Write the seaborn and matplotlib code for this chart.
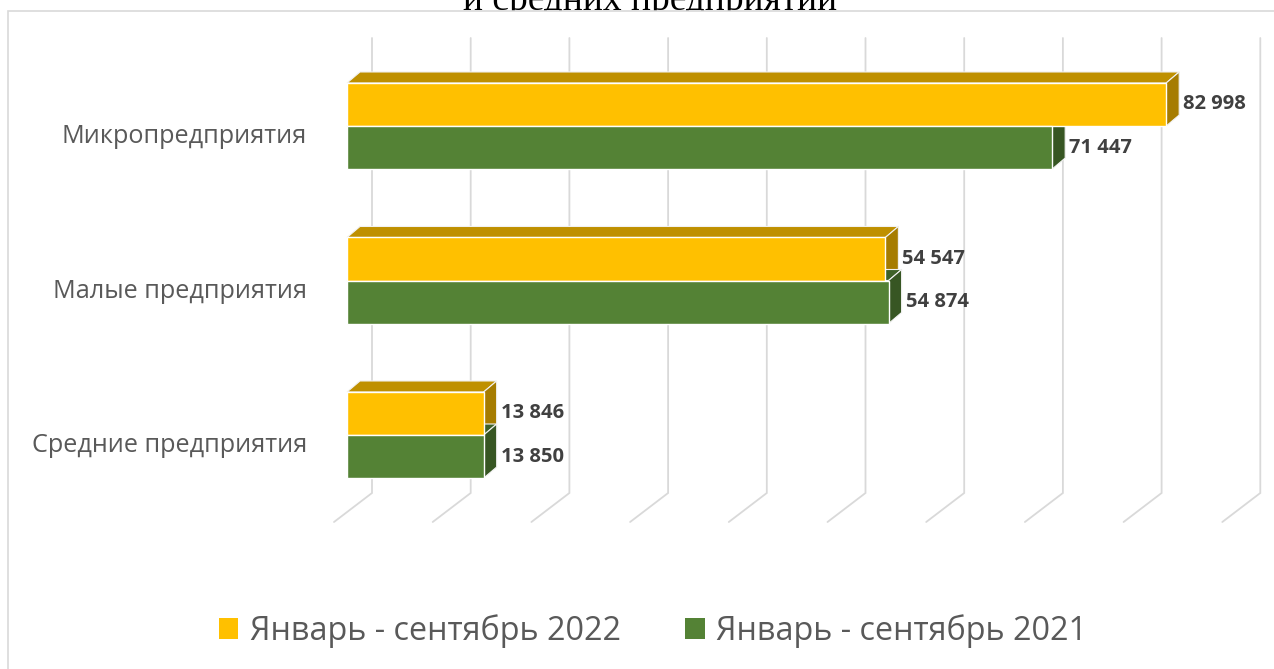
import pandas as pd
import matplotlib
matplotlib.use("Agg")
import matplotlib.pyplot as plt
from matplotlib.patches import Polygon, Patch, Rectangle
import seaborn as sns

categories = ["Микропредприятия", "Малые предприятия", "Средние предприятия"]
periods = ["Январь - сентябрь 2022", "Январь - сентябрь 2021"]
values_2022 = [82998, 54547, 13846]
values_2021 = [71447, 54874, 13850]
grid_ticks = list(range(0, 90001, 10000))
title = "и средних предприятий"

W, H = 1274, 669
PXU = 98.7 / 10000      # pixels per unit of value
X0 = 347                # pixel column of zero on bar fronts
YCAT = 154.5            # pixels between categories
Y0 = 126                # pixel row of first category centre

front = {periods[0]: "#FFC000", periods[1]: "#548235"}
top_c = {periods[0]: "#BF9000", periods[1]: "#3E6128"}
side_c = {periods[0]: "#A67C00", periods[1]: "#375623"}
grid_col = "#D9D9D9"
text_col = "#595959"

df = pd.DataFrame({
    "category": categories * 2,
    "period": [periods[0]] * 3 + [periods[1]] * 3,
    "value": values_2022 + values_2021,
})

sns.set_theme(style="white")
plt.rcParams["font.family"] = ["Open Sans", "DejaVu Sans"]

fig = plt.figure(figsize=(W / 100, H / 100), dpi=100)
ax = fig.add_axes([0, 0, 1, 1], zorder=1)
ax.patch.set_alpha(0)


def px_x(p):
    return p / PXU


def px_y(p):
    return (p - Y0) / YCAT


# the cut off title behind the chart area and the chart border
fig.text(650 / W, 1 - 9.5 / H, title, family="Liberation Serif", fontsize=27,
         ha="center", va="baseline", color="black", zorder=0.1)
fig.patches.append(Rectangle((8 / W, -0.1), 1.2, 1 - 11.5 / H + 0.1,
                             transform=fig.transFigure, facecolor="white",
                             edgecolor=grid_col, linewidth=1.2, zorder=0.5))

sns.barplot(data=df, x="value", y="category", hue="period", order=categories,
            hue_order=periods, palette=front, orient="h", width=0.557,
            saturation=1, edgecolor="white", linewidth=1, legend=False,
            ax=ax, zorder=3)

ax.set_xlim(-px_x(X0), px_x(W - X0))
ax.set_ylim(px_y(H), px_y(0))
ax.set_axis_off()

# back wall and floor gridlines
for v in grid_ticks:
    xw = v + px_x(25)
    ax.plot([xw, xw, xw - px_x(38)], [px_y(38), px_y(493), px_y(522)],
            color=grid_col, lw=1.3, zorder=1, solid_joinstyle="miter")

# 3D top and side faces
ddx, ddy = px_x(13), -11 / YCAT
bars = ax.patches
for i, p in enumerate(bars):
    per = periods[i // len(categories)]
    x1 = p.get_x() + p.get_width()
    x0 = p.get_x()
    yt = p.get_y()
    yb = yt + p.get_height()
    ax.add_patch(Polygon([(x0, yt), (x1, yt), (x1 + ddx, yt + ddy), (x0 + ddx, yt + ddy)],
                         closed=True, facecolor=top_c[per], edgecolor="#F2F2F2",
                         linewidth=0.8, zorder=2))
    ax.add_patch(Polygon([(x1, yt), (x1 + ddx, yt + ddy), (x1 + ddx, yb + ddy), (x1, yb)],
                         closed=True, facecolor=side_c[per], edgecolor="#F2F2F2",
                         linewidth=0.8, zorder=2))
    ax.text(x1 + ddx + px_x(4), yt + p.get_height() / 2,
            f"{int(p.get_width()):,}".replace(",", " "),
            ha="left", va="center", fontsize=14.5, fontweight="bold",
            color="#404040", zorder=4)

for i, c in enumerate(categories):
    ax.text(-px_x(X0 - 307), i + 10.5 / YCAT, c, ha="right", va="center",
            fontsize=18.2, color=text_col, zorder=4)

handles = [Patch(facecolor=front[p], edgecolor="none") for p in periods]
fig.legend(handles, periods, loc="center", bbox_to_anchor=(653 / W, 1 - 631 / H),
           ncol=2, frameon=False, fontsize=23.3, labelcolor=text_col,
           handlelength=0.6, handleheight=0.6, handletextpad=0.35,
           columnspacing=2.0)

fig.savefig("out.png", dpi=100)
